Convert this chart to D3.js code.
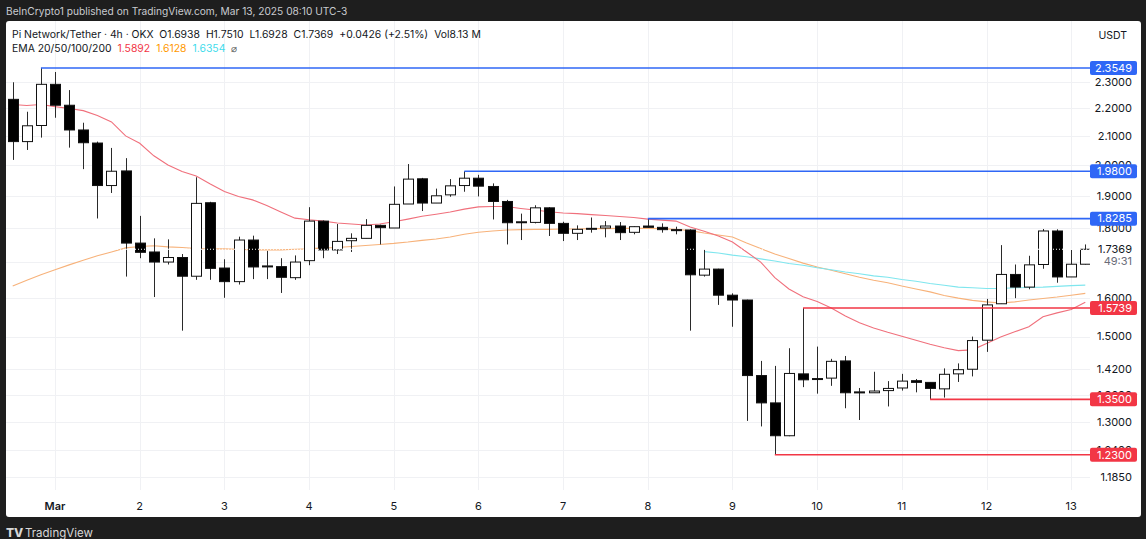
<!DOCTYPE html>
<html><head><meta charset="utf-8">
<script src="https://cdn.jsdelivr.net/npm/d3@7"></script>
<style>
html,body{margin:0;padding:0;background:#1e1e1e;}
svg{display:block;font-family:Inter,"Noto Sans",sans-serif;}
</style></head>
<body><svg id="c" width="1146" height="539"></svg>
<script>
// ---- data (4h candles, Pi Network / USDT, OKX) ----
const startTime = Date.UTC(2025, 1, 28, 12); // first visible candle
const candleHours = 4;
const opens  = [2.234,2.081,2.138,2.291,2.212,2.122,2.076,1.933,1.981,1.755,1.729,1.700,1.713,1.660,1.878,1.683,1.645,1.764,1.687,1.687,1.656,1.704,1.821,1.735,1.762,1.769,1.808,1.800,1.874,1.955,1.877,1.903,1.933,1.957,1.930,1.882,1.818,1.817,1.862,1.814,1.784,1.797,1.800,1.806,1.787,1.806,1.802,1.795,1.794,1.663,1.680,1.608,1.595,1.405,1.342,1.270,1.409,1.396,1.399,1.440,1.367,1.365,1.370,1.376,1.393,1.389,1.374,1.409,1.420,1.491,1.585,1.665,1.630,1.693,1.791,1.658,1.6938];
const highs  = [2.299,2.188,2.3549,2.339,2.269,2.148,2.081,2.059,2.024,1.837,1.769,1.766,1.723,1.960,1.881,1.708,1.774,1.777,1.732,1.711,1.719,1.864,1.823,1.812,1.784,1.827,1.810,1.930,2.004,1.958,1.923,1.954,1.980,1.968,1.940,1.887,1.844,1.870,1.864,1.819,1.808,1.832,1.821,1.818,1.805,1.8285,1.814,1.804,1.796,1.735,1.681,1.613,1.596,1.440,1.428,1.471,1.5739,1.475,1.445,1.452,1.376,1.414,1.392,1.409,1.397,1.389,1.422,1.434,1.500,1.598,1.749,1.693,1.718,1.797,1.796,1.735,1.7510];
const lows   = [2.018,2.052,2.095,2.166,2.060,1.987,1.829,1.909,1.659,1.711,1.603,1.693,1.515,1.650,1.650,1.601,1.637,1.652,1.652,1.614,1.650,1.691,1.711,1.723,1.729,1.769,1.751,1.800,1.874,1.852,1.877,1.897,1.913,1.898,1.826,1.751,1.764,1.814,1.776,1.761,1.764,1.786,1.772,1.764,1.781,1.801,1.786,1.781,1.515,1.659,1.582,1.525,1.302,1.290,1.230,1.269,1.378,1.363,1.381,1.330,1.304,1.365,1.334,1.370,1.366,1.350,1.354,1.390,1.403,1.462,1.585,1.600,1.624,1.681,1.642,1.658,1.6928];
const closes = [2.081,2.137,2.291,2.212,2.122,2.077,1.933,1.980,1.755,1.728,1.700,1.713,1.660,1.876,1.682,1.645,1.764,1.686,1.689,1.657,1.700,1.821,1.735,1.760,1.769,1.808,1.801,1.873,1.954,1.877,1.900,1.932,1.957,1.931,1.882,1.816,1.819,1.862,1.814,1.784,1.796,1.799,1.806,1.786,1.804,1.802,1.795,1.793,1.664,1.680,1.608,1.595,1.405,1.342,1.270,1.410,1.395,1.398,1.439,1.365,1.366,1.369,1.375,1.392,1.389,1.375,1.408,1.419,1.490,1.582,1.665,1.630,1.692,1.791,1.658,1.6938,1.7369];
const ema20  = [2.215,2.211,2.215,2.207,2.200,2.192,2.174,2.151,2.101,2.075,2.032,2.001,1.979,1.964,1.938,1.914,1.898,1.887,1.869,1.849,1.830,1.825,1.821,1.815,1.812,1.809,1.812,1.819,1.827,1.836,1.842,1.849,1.858,1.865,1.866,1.866,1.860,1.855,1.850,1.846,1.844,1.841,1.838,1.835,1.832,1.827,1.824,1.821,1.803,1.790,1.776,1.758,1.729,1.700,1.656,1.625,1.604,1.591,1.574,1.553,1.535,1.522,1.511,1.501,1.491,1.481,1.472,1.465,1.467,1.483,1.499,1.512,1.525,1.551,1.561,1.570,1.5892];
const ema50  = [1.633,1.649,1.664,1.678,1.692,1.705,1.718,1.729,1.741,1.745,1.747,1.744,1.742,1.739,1.738,1.738,1.737,1.735,1.735,1.735,1.737,1.738,1.741,1.742,1.745,1.748,1.751,1.754,1.758,1.763,1.767,1.773,1.781,1.787,1.791,1.794,1.795,1.796,1.796,1.797,1.797,1.798,1.798,1.799,1.799,1.799,1.798,1.796,1.792,1.785,1.779,1.773,1.755,1.739,1.723,1.710,1.697,1.686,1.677,1.667,1.657,1.649,1.642,1.633,1.625,1.617,1.607,1.600,1.594,1.590,1.587,1.590,1.595,1.599,1.603,1.608,1.6128];
const ema100 = [null,null,null,null,null,null,null,null,null,null,null,null,null,null,null,null,null,null,null,null,null,null,null,null,null,null,null,null,null,null,null,null,null,null,null,null,null,null,null,null,null,null,null,null,null,null,null,null,null,1.730,1.726,1.720,1.715,1.709,1.703,1.696,1.691,1.684,1.678,1.672,1.667,1.661,1.657,1.651,1.646,1.640,1.635,1.630,1.628,1.626,1.626,1.628,1.629,1.630,1.632,1.634,1.6354];
const priceTicks = [2.3, 2.2, 2.1, 2.0, 1.9, 1.8, 1.6, 1.5, 1.42, 1.36, 1.3, 1.24, 1.185];
const gridOnly = [1.7];
const dayTicks = [Date.UTC(2025,2,1),Date.UTC(2025,2,2),Date.UTC(2025,2,3),Date.UTC(2025,2,4),Date.UTC(2025,2,5),Date.UTC(2025,2,6),Date.UTC(2025,2,7),Date.UTC(2025,2,8),Date.UTC(2025,2,9),Date.UTC(2025,2,10),Date.UTC(2025,2,11),Date.UTC(2025,2,12),Date.UTC(2025,2,13)];
const dayLabels = ["Mar","2","3","4","5","6","7","8","9","10","11","12","13"];
// key levels: [price, startCandleIndex, kind]
const levelPrices = [2.3549, 1.9800, 1.8285, 1.5739, 1.3500, 1.2300];
const levelStart  = [2, 32, 45, 56, 65, 54];
const levelKind   = ["res","res","res","sup","sup","sup"];
const lastPrice = 1.7369;
const countdown = "49:31";

// ---- layout ----
const svg = d3.select("#c");
const W = 1146, H = 539;
const panel = {x0: 6, x1: 1141, y0: 21, y1: 517};
const plotRight = 1090;
const times = closes.map((d,i) => new Date(startTime + i*candleHours*3600e3));
const x = d3.scaleUtc().domain([times[0], times[times.length-1]]).range([12.7, 1085.3]);
const y = d3.scaleLog().domain([1.185, 2.3]).range([477, 82]);
const fmt = d3.format(".4f");

// frame
svg.append("rect").attr("width",W).attr("height",H).attr("fill","#1e1e1e");
svg.append("rect").attr("x",panel.x0).attr("y",panel.y0).attr("width",panel.x1-panel.x0).attr("height",panel.y1-panel.y0).attr("fill","#ffffff").attr("rx",3);
svg.append("text").attr("x",6).attr("y",11).attr("dy","0.35em").attr("fill","#c9cbd0").attr("font-size",10.2)
  .text("BeInCrypto1 published on TradingView.com, Mar 13, 2025 08:10 UTC-3");

// clip
svg.append("clipPath").attr("id","plot").append("rect")
  .attr("x",panel.x0).attr("y",panel.y0).attr("width",plotRight-panel.x0).attr("height",490-panel.y0);

const g = svg.append("g").attr("clip-path","url(#plot)");
// grid
g.selectAll("line.hg").data(priceTicks.concat(gridOnly)).join("line")
  .attr("x1",panel.x0).attr("x2",plotRight).attr("y1",d=>Math.round(y(d))+0.5).attr("y2",d=>Math.round(y(d))+0.5)
  .attr("stroke","#f0f1f4").attr("stroke-width",1);
g.selectAll("line.vg").data(dayTicks).join("line")
  .attr("x1",d=>Math.round(x(d))+0.5).attr("x2",d=>Math.round(x(d))+0.5).attr("y1",panel.y0).attr("y2",490)
  .attr("stroke","#f0f1f4").attr("stroke-width",1);

// EMAs
const line = arr => d3.line().defined(d=>d!=null).x((d,i)=>x(times[i])).y(d=>y(d))(arr);
g.append("path").attr("d",line(ema50)).attr("fill","none").attr("stroke","#f7b27a").attr("stroke-width",1.1);
g.append("path").attr("d",line(ema100)).attr("fill","none").attr("stroke","#7fe6ee").attr("stroke-width",1.1);
g.append("path").attr("d",line(ema20)).attr("fill","none").attr("stroke","#f0707c").attr("stroke-width",1.1);

// candles
const bw = 10;
const cg = g.append("g");
closes.forEach((c,i)=>{
  const o = opens[i], h = highs[i], l = lows[i];
  const cx = Math.round(x(times[i])) + 0.5;
  const up = c >= o;
  cg.append("line").attr("x1",cx).attr("x2",cx).attr("y1",y(h)).attr("y2",y(l)).attr("stroke","#2a2a2a").attr("stroke-width",1);
  const top = y(Math.max(o,c)), bot = y(Math.min(o,c));
  const hgt = Math.max(1, bot-top);
  cg.append("rect").attr("x",cx-bw/2).attr("y",top).attr("width",bw).attr("height",hgt)
    .attr("fill", up ? "#ffffff" : "#000000").attr("stroke","#111").attr("stroke-width",1);
});

// last price dotted line
g.append("line").attr("x1",panel.x0).attr("x2",plotRight).attr("y1",y(lastPrice)).attr("y2",y(lastPrice))
  .attr("stroke","#ffffff").attr("stroke-width",1).attr("stroke-dasharray","1,2");

// level lines
const colorOf = k => k==="res" ? "#2f67f6" : "#f23645";
levelPrices.forEach((p,i)=>{
  svg.append("line").attr("x1",x(times[levelStart[i]])).attr("x2",plotRight).attr("y1",y(p)).attr("y2",y(p))
    .attr("stroke",colorOf(levelKind[i])).attr("stroke-width",1.6);
});

// price axis labels
const ax = svg.append("g");
ax.selectAll("text.t").data(priceTicks).join("text")
  .attr("x",1132).attr("y",d=>y(d)).attr("dy","0.35em").attr("text-anchor","end")
  .attr("font-size",11).attr("fill","#131722").text(d=>fmt(d));
ax.append("text").attr("x",1132).attr("y",y(lastPrice)).attr("dy","0.35em").attr("text-anchor","end")
  .attr("font-size",11).attr("fill","#131722").text(fmt(lastPrice));
ax.append("text").attr("x",1132).attr("y",y(lastPrice)+12).attr("dy","0.35em").attr("text-anchor","end")
  .attr("font-size",11).attr("fill","#6a6d78").text(countdown);
ax.append("text").attr("x",1127).attr("y",35).attr("dy","0.35em").attr("text-anchor","end")
  .attr("font-size",10.5).attr("fill","#131722").text("USDT");
levelPrices.forEach((p,i)=>{
  ax.append("rect").attr("x",1090).attr("y",y(p)-7).attr("width",47).attr("height",14).attr("rx",2)
    .attr("fill",colorOf(levelKind[i]));
  ax.append("text").attr("x",1132).attr("y",y(p)).attr("dy","0.35em").attr("text-anchor","end")
    .attr("font-size",11).attr("fill","#ffffff").text(fmt(p));
});

// time axis labels
svg.selectAll("text.d").data(dayTicks).join("text")
  .attr("x",d=>x(d)).attr("y",506).attr("dy","0.35em").attr("text-anchor","middle")
  .attr("font-size",11).attr("fill","#131722").attr("font-weight",(d,i)=>i===0?600:400)
  .text((d,i)=>dayLabels[i]);

// legend
const l1 = svg.append("text").attr("x",12).attr("y",34).attr("dy","0.35em").attr("font-size",10.4).attr("fill","#131722");
l1.append("tspan").text("Pi Network/Tether · 4h · OKX");
l1.append("tspan").attr("dx",6).text("O" + fmt(opens[opens.length-1]));
l1.append("tspan").attr("dx",6).text("H" + fmt(highs[highs.length-1]));
l1.append("tspan").attr("dx",6).text("L" + fmt(lows[lows.length-1]));
l1.append("tspan").attr("dx",6).text("C" + fmt(lastPrice));
l1.append("tspan").attr("dx",6).text("+0.0426 (+2.51%)");
l1.append("tspan").attr("dx",6).text("Vol8.13 M");
const l2 = svg.append("text").attr("x",12).attr("y",48).attr("dy","0.35em").attr("font-size",10.4).attr("fill","#131722");
l2.append("tspan").text("EMA 20/50/100/200");
l2.append("tspan").attr("dx",6).attr("fill","#f23645").text(fmt(ema20[ema20.length-1]));
l2.append("tspan").attr("dx",6).attr("fill","#ff9800").text(fmt(ema50[ema50.length-1]));
l2.append("tspan").attr("dx",6).attr("fill","#3fdcec").text(fmt(ema100[ema100.length-1]));
l2.append("tspan").attr("dx",6).attr("fill","#555").text("⌀");

// footer logo
svg.append("text").attr("x",6).attr("y",533).attr("dy","0.35em").attr("font-size",12).attr("font-weight",800).attr("fill","#d8d8d8").text("TV");
svg.append("text").attr("x",25).attr("y",533).attr("dy","0.35em").attr("font-size",11.5).attr("fill","#d8d8d8").text("TradingView");
</script></body></html>
